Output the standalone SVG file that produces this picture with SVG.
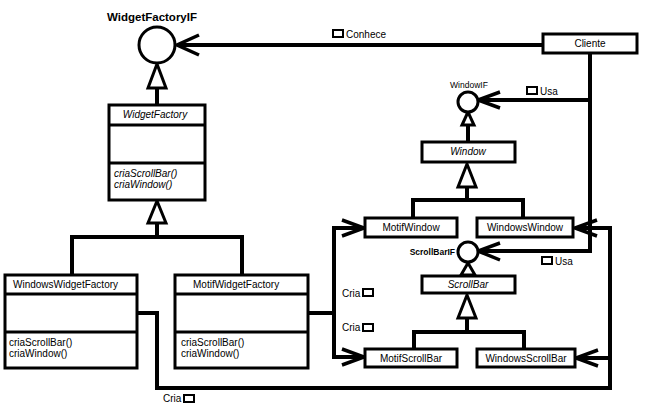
<svg xmlns="http://www.w3.org/2000/svg" width="645" height="412" viewBox="0 0 645 412">
<style>
.box{fill:#fff;stroke:#000;stroke-width:3}
.dv{stroke:#000;stroke-width:3}
.ln{fill:none;stroke:#000;stroke-width:4}
.ah{fill:none;stroke:#000;stroke-width:3.5;stroke-linecap:butt}
.tri{fill:#fff;stroke:#000;stroke-width:3}
.chk{fill:#fff;stroke:#000;stroke-width:2}
.t{font-family:"Liberation Sans",Arial,sans-serif;font-size:10px;fill:#000}
.i{font-style:italic}
.c{text-anchor:middle}
</style>
<rect width="645" height="412" fill="#fff"/>
<g id="connectors">
  <line class="ln" x1="543" y1="45" x2="177" y2="45"/>
  <path class="ah" d="M199,35 L177,45 L199,55"/>
  <path class="ln" d="M590,53 V251 H479"/>
  <path class="ln" d="M590,100 H479"/>
  <path class="ah" d="M500,92 L478,100 L500,108"/>
  <path class="ah" d="M500,243 L478,251 L500,260"/>
  <line class="ln" x1="157" y1="88" x2="157" y2="105"/>
  <polygon class="tri" points="157,64 148,88 166,88"/>
  <line class="ln" x1="157" y1="223" x2="157" y2="237"/>
  <path class="ln" d="M72,275 V237 H242 V275"/>
  <polygon class="tri" points="157,201 148,223 166,223"/>
  <line class="ln" x1="468" y1="124" x2="468" y2="142"/>
  <polygon class="tri" points="468,112 462,125 474,125"/>
  <line class="ln" x1="467" y1="187" x2="467" y2="200"/>
  <path class="ln" d="M413,218 V200 H523 V218"/>
  <polygon class="tri" points="467,164 458,187 476,187"/>
  <polygon class="tri" points="468,263 461,275 475,275"/>
  <line class="ln" x1="467" y1="318" x2="467" y2="332"/>
  <path class="ln" d="M414,349 V332 H524 V349"/>
  <polygon class="tri" points="467,295 458,318 476,318"/>
  <path class="ln" d="M137,313 H157 V388 H610 V228 H577"/>
  <path class="ln" d="M610,358 H578"/>
  <path class="ah" d="M597,220 L575,228 L597,236"/>
  <path class="ah" d="M598,350 L576,358 L598,366"/>
  <path class="ln" d="M308,313 H334"/>
  <path class="ln" d="M363,228 H334 V357 H363"/>
  <path class="ah" d="M342,220 L364,228 L342,236"/>
  <path class="ah" d="M342,349 L364,357 L342,365"/>
  <rect class="chk" x="333" y="30" width="10" height="7"/>
  <text class="t" x="346" y="38">Conhece</text>
  <rect class="chk" x="527" y="87" width="10" height="7"/>
  <text class="t" x="540" y="95">Usa</text>
  <rect class="chk" x="542" y="257" width="10" height="7"/>
  <text class="t" x="555" y="265">Usa</text>
  <text class="t" x="342" y="297">Cria</text>
  <rect class="chk" x="363" y="289" width="10" height="7"/>
  <text class="t" x="342" y="331">Cria</text>
  <rect class="chk" x="363" y="324" width="10" height="7"/>
  <text class="t" x="163" y="402">Cria</text>
  <rect class="chk" x="184" y="395" width="10" height="7"/>
</g>
<g id="WidgetFactoryIF">
  <circle class="box" cx="157" cy="45" r="18"/>
  <text class="t c" x="152" y="21" style="font-weight:bold;font-size:11.5px">WidgetFactoryIF</text>
</g>
<g id="WidgetFactory">
  <rect class="box" x="109" y="105" width="96" height="95"/>
  <line class="dv" x1="109" y1="125" x2="205" y2="125"/>
  <line class="dv" x1="109" y1="163" x2="205" y2="163"/>
  <text class="t i c" x="155" y="118">WidgetFactory</text>
  <text class="t i" x="114" y="177">criaScrollBar()</text>
  <text class="t i" x="114" y="188">criaWindow()</text>
</g>
<g id="WindowsWidgetFactory">
  <rect class="box" x="5" y="275" width="132" height="93"/>
  <line class="dv" x1="5" y1="294" x2="137" y2="294"/>
  <line class="dv" x1="5" y1="332" x2="137" y2="332"/>
  <text class="t" x="13" y="288">WindowsWidgetFactory</text>
  <text class="t" x="9" y="346">criaScrollBar()</text>
  <text class="t" x="9" y="357">criaWindow()</text>
</g>
<g id="MotifWidgetFactory">
  <rect class="box" x="175" y="275" width="133" height="93"/>
  <line class="dv" x1="175" y1="294" x2="308" y2="294"/>
  <line class="dv" x1="175" y1="332" x2="308" y2="332"/>
  <text class="t" x="193" y="288">MotifWidgetFactory</text>
  <text class="t" x="181" y="346">criaScrollBar()</text>
  <text class="t" x="181" y="357">criaWindow()</text>
</g>
<g id="Cliente">
  <rect class="box" x="543" y="34" width="94" height="19"/>
  <text class="t c" x="590" y="47">Cliente</text>
</g>
<g id="WindowIF">
  <circle class="box" cx="468" cy="102" r="10"/>
  <text class="t c" x="469" y="88" style="font-size:8.5px">WindowIF</text>
</g>
<g id="Window">
  <rect class="box" x="422" y="142" width="93" height="20"/>
  <text class="t i c" x="468" y="155">Window</text>
</g>
<g id="MotifWindow">
  <rect class="box" x="365" y="218" width="92" height="19"/>
  <text class="t c" x="411" y="231">MotifWindow</text>
</g>
<g id="WindowsWindow">
  <rect class="box" x="477" y="218" width="96" height="19"/>
  <text class="t c" x="525" y="231">WindowsWindow</text>
</g>
<g id="ScrollBarIF">
  <circle class="box" cx="468" cy="252" r="10"/>
  <text class="t" x="455" y="255" style="font-weight:bold;font-size:8.5px;text-anchor:end">ScrollBarIF</text>
</g>
<g id="ScrollBar">
  <rect class="box" x="422" y="276" width="93" height="17"/>
  <text class="t i c" x="468" y="288">ScrollBar</text>
</g>
<g id="MotifScrollBar">
  <rect class="box" x="365" y="349" width="92" height="18"/>
  <text class="t c" x="411" y="362">MotifScrollBar</text>
</g>
<g id="WindowsScrollBar">
  <rect class="box" x="477" y="349" width="98" height="18"/>
  <text class="t c" x="526" y="362">WindowsScrollBar</text>
</g>
</svg>
